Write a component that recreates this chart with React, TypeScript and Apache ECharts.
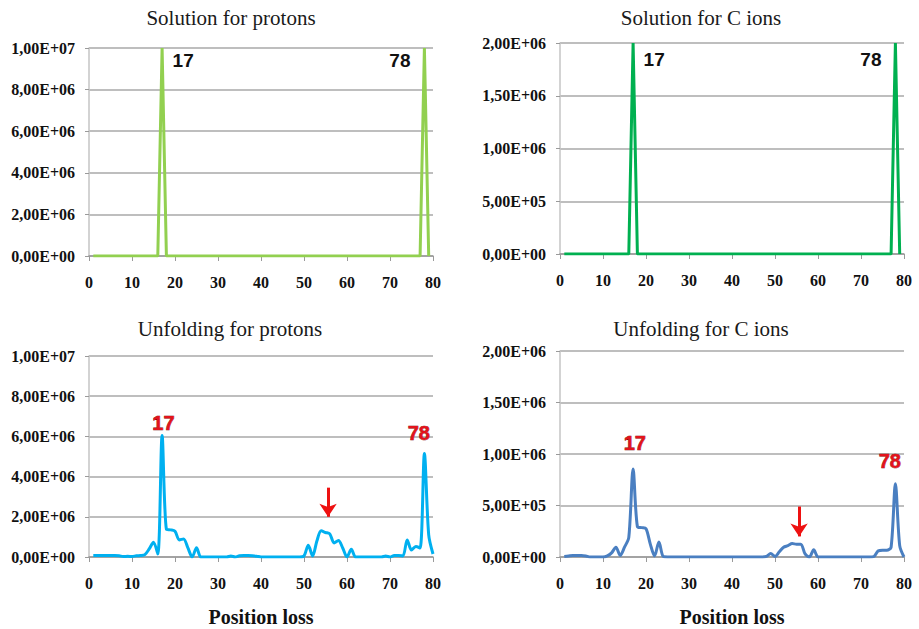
import React, { useEffect, useRef } from "react";
import * as echarts from "echarts";

// x positions
const positionsTop: number[] = [
  1, 2, 3, 4, 5, 6, 7, 8, 9, 10, 11, 12, 13, 14, 15, 16, 17, 18, 19, 20,
  21, 22, 23, 24, 25, 26, 27, 28, 29, 30, 31, 32, 33, 34, 35, 36, 37, 38, 39, 40,
  41, 42, 43, 44, 45, 46, 47, 48, 49, 50, 51, 52, 53, 54, 55, 56, 57, 58, 59, 60,
  61, 62, 63, 64, 65, 66, 67, 68, 69, 70, 71, 72, 73, 74, 75, 76, 77, 78, 79,
];
const positionsBottom: number[] = [
  1, 2, 3, 4, 5, 6, 7, 8, 9, 10, 11, 12, 13, 14, 15, 16, 17, 18, 19, 20,
  21, 22, 23, 24, 25, 26, 27, 28, 29, 30, 31, 32, 33, 34, 35, 36, 37, 38, 39, 40,
  41, 42, 43, 44, 45, 46, 47, 48, 49, 50, 51, 52, 53, 54, 55, 56, 57, 58, 59, 60,
  61, 62, 63, 64, 65, 66, 67, 68, 69, 70, 71, 72, 73, 74, 75, 76, 77, 78, 79, 80,
];

// Solution for protons (x = 1..79)
const solutionProtons: number[] = [
  0, 0, 0, 0, 0, 0, 0, 0, 0, 0, 0, 0, 0, 0, 0, 0, 1e7, 0, 0, 0,
  0, 0, 0, 0, 0, 0, 0, 0, 0, 0, 0, 0, 0, 0, 0, 0, 0, 0, 0, 0,
  0, 0, 0, 0, 0, 0, 0, 0, 0, 0, 0, 0, 0, 0, 0, 0, 0, 0, 0, 0,
  0, 0, 0, 0, 0, 0, 0, 0, 0, 0, 0, 0, 0, 0, 0, 0, 0, 1e7, 0,
];
// Solution for C ions (x = 1..79)
const solutionCIons: number[] = [
  0, 0, 0, 0, 0, 0, 0, 0, 0, 0, 0, 0, 0, 0, 0, 0, 2e6, 0, 0, 0,
  0, 0, 0, 0, 0, 0, 0, 0, 0, 0, 0, 0, 0, 0, 0, 0, 0, 0, 0, 0,
  0, 0, 0, 0, 0, 0, 0, 0, 0, 0, 0, 0, 0, 0, 0, 0, 0, 0, 0, 0,
  0, 0, 0, 0, 0, 0, 0, 0, 0, 0, 0, 0, 0, 0, 0, 0, 0, 2e6, 0,
];
// Unfolding for protons (x = 1..80)
const unfoldingProtons: number[] = [
  0.07e6, 0.07e6, 0.07e6, 0.07e6, 0.07e6, 0.07e6, 0.06e6, 0.02e6, 0.04e6, 0.02e6,
  0.06e6, 0.07e6, 0.12e6, 0.4e6, 0.74e6, 0.15e6, 6.05e6, 1.38e6, 1.35e6, 1.28e6,
  0.85e6, 0.9e6, 0.45e6, 0, 0.46e6, 0, 0, 0, 0, 0,
  0, 0, 0.05e6, 0, 0.06e6, 0.07e6, 0.07e6, 0.06e6, 0.04e6, 0,
  0, 0, 0, 0, 0, 0, 0, 0, 0, 0.05e6,
  0.58e6, 0.05e6, 0.8e6, 1.3e6, 1.22e6, 1.15e6, 0.7e6, 0.82e6, 0.45e6, 0,
  0.38e6, 0, 0, 0, 0, 0, 0, 0, 0.05e6, 0,
  0.08e6, 0.08e6, 0.05e6, 0.85e6, 0.35e6, 0.52e6, 0.45e6, 5.15e6, 1.1e6, 0.15e6,
];
// Unfolding for C ions (x = 1..80)
const unfoldingCIons: number[] = [
  0.005e6, 0.01e6, 0.015e6, 0.015e6, 0.015e6, 0.01e6, 0, 0, 0, 0,
  0.01e6, 0.04e6, 0.095e6, 0.015e6, 0.095e6, 0.19e6, 0.855e6, 0.295e6, 0.285e6, 0.275e6,
  0.125e6, 0.01e6, 0.145e6, 0.005e6, 0, 0, 0, 0, 0, 0,
  0, 0, 0, 0, 0, 0, 0, 0, 0, 0,
  0, 0, 0, 0, 0, 0, 0, 0.005e6, 0.035e6, 0.005e6,
  0.05e6, 0.095e6, 0.11e6, 0.13e6, 0.125e6, 0.125e6, 0.03e6, 0, 0.07e6, 0,
  0, 0, 0, 0, 0, 0, 0, 0, 0, 0,
  0, 0, 0.005e6, 0.06e6, 0.065e6, 0.065e6, 0.095e6, 0.71e6, 0.11e6, 0,
];

const titles: string[] = [
  "Solution for protons",
  "Solution for C ions",
  "Unfolding for protons",
  "Unfolding for C ions",
];
const xAxisTitle = "Position loss";
const peakLabels: string[] = ["17", "78"];
const yMaxProtons = 1e7;
const yStepProtons = 2e6;
const yMaxCIons = 2e6;
const yStepCIons = 5e5;

const SERIF = "'Liberation Serif', 'Times New Roman', serif";
const SANS = "'Liberation Sans', Arial, sans-serif";

function sci(v: number): string {
  if (v === 0) return "0,00E+00";
  const e = Math.floor(Math.log10(v) + 1e-9);
  const m = v / Math.pow(10, e);
  return m.toFixed(2).replace(".", ",") + "E+" + String(e).padStart(2, "0");
}

export default function App() {
  const ref = useRef<HTMLDivElement>(null);
  useEffect(() => {
    if (!ref.current) return;
    const chart = echarts.init(ref.current, null, { renderer: "svg" });

    const grids = [
      { left: 89, top: 48, width: 344, height: 208, outerBoundsMode: "none", containLabel: false },
      { left: 560, top: 43, width: 344, height: 211, outerBoundsMode: "none", containLabel: false },
      { left: 89, top: 356, width: 344, height: 201, outerBoundsMode: "none", containLabel: false },
      { left: 560, top: 351, width: 344, height: 206, outerBoundsMode: "none", containLabel: false },
    ];

    const xAxes = grids.map((_, i) => ({
      type: "value",
      gridIndex: i,
      min: 0,
      max: 80,
      interval: 10,
      name: i >= 2 ? xAxisTitle : "",
      nameLocation: "middle",
      nameGap: 50,
      nameTextStyle: { fontFamily: SERIF, fontWeight: "bold", fontSize: 20, color: "#111" },
      axisLine: { show: true, lineStyle: { color: "#9a9a9a", width: 1.5 } },
      axisTick: { show: true, length: 5, lineStyle: { color: "#9a9a9a" } },
      axisLabel: { margin: 18, fontFamily: SERIF, fontWeight: "bold", fontSize: 16, color: "#111" },
      splitLine: { show: false },
    }));

    const yAxes = grids.map((_, i) => {
      const isP = i % 2 === 0;
      return {
        type: "value",
        gridIndex: i,
        min: 0,
        max: isP ? yMaxProtons : yMaxCIons,
        interval: isP ? yStepProtons : yStepCIons,
        axisLine: { show: true, lineStyle: { color: "#c4c4c4", width: 1.5 } },
        axisTick: { show: true, length: 4, lineStyle: { color: "#9a9a9a" } },
        axisLabel: {
          margin: 14,
          fontFamily: SERIF,
          fontWeight: "bold",
          fontSize: 16,
          color: "#111",
          formatter: (v: number) => sci(v),
        },
        splitLine: { show: true, lineStyle: { color: "#a8a8a8", width: 1.5 } },
      };
    });

    const pairs = (xs: number[], ys: number[]) => xs.map((x, k) => [x, ys[k]]);

    const topLabel = (coords: number[][]) => ({
      silent: true,
      symbol: "rect",
      symbolSize: 1,
      itemStyle: { color: "rgba(0,0,0,0)" },
      label: {
        show: true,
        position: "inside",
        fontFamily: SANS,
        fontWeight: "bold",
        fontSize: 19,
        color: "#111",
      },
      data: coords.map((c, k) => ({ coord: c, value: peakLabels[k], label: { formatter: peakLabels[k] } })),
    });
    const redLabel = (coords: number[][]) => ({
      silent: true,
      symbol: "rect",
      symbolSize: 1,
      itemStyle: { color: "rgba(0,0,0,0)" },
      label: {
        show: true,
        position: "inside",
        fontFamily: SANS,
        fontWeight: "bold",
        fontSize: 20,
        color: "#e3131b",
        textBorderColor: "#7a0000",
        textBorderWidth: 0.6,
      },
      data: coords.map((c, k) => ({ coord: c, value: peakLabels[k], label: { formatter: peakLabels[k] } })),
    });
    const arrow = (x: number, y1: number, y2: number) => ({
      silent: true,
      symbol: ["none", "arrow"],
      symbolSize: 13,
      lineStyle: { color: "#ee1111", width: 3, type: "solid" },
      itemStyle: { color: "#ee1111" },
      label: { show: false },
      emphasis: { disabled: true },
      data: [[{ coord: [x, y1] }, { coord: [x, y2] }]],
    });

    const series = [
      {
        type: "line",
        xAxisIndex: 0,
        yAxisIndex: 0,
        data: pairs(positionsTop, solutionProtons),
        showSymbol: false,
        lineStyle: { color: "#92d050", width: 3 },
        itemStyle: { color: "#92d050" },
        markPoint: topLabel([[21.9, 9.42e6], [72.3, 9.42e6]]),
      },
      {
        type: "line",
        xAxisIndex: 1,
        yAxisIndex: 1,
        data: pairs(positionsTop, solutionCIons),
        showSymbol: false,
        lineStyle: { color: "#00b050", width: 3 },
        itemStyle: { color: "#00b050" },
        markPoint: topLabel([[21.9, 1.84e6], [72.3, 1.84e6]]),
      },
      {
        type: "line",
        xAxisIndex: 2,
        yAxisIndex: 2,
        data: pairs(positionsBottom, unfoldingProtons),
        showSymbol: false,
        smooth: 0.3,
        lineStyle: { color: "#00b0f0", width: 3 },
        itemStyle: { color: "#00b0f0" },
        markPoint: redLabel([[17.3, 6.67e6], [76.7, 6.17e6]]),
        markLine: arrow(55.6, 3.45e6, 2.0e6),
      },
      {
        type: "line",
        xAxisIndex: 3,
        yAxisIndex: 3,
        data: pairs(positionsBottom, unfoldingCIons),
        showSymbol: false,
        smooth: 0.3,
        lineStyle: { color: "#4a7fc1", width: 3 },
        itemStyle: { color: "#4a7fc1" },
        markPoint: redLabel([[17.4, 1.107e6], [76.7, 0.93e6]]),
        markLine: arrow(55.6, 0.49e6, 0.2e6),
      },
    ];

    const titleCenters = [
      [226, 2],
      [696, 2],
      [225, 313],
      [696, 313],
    ];

    chart.setOption({
      animation: false,
      backgroundColor: "#ffffff",
      title: titles.map((t, i) => ({
        text: t,
        left: titleCenters[i][0],
        top: titleCenters[i][1],
        textAlign: "center",
        textStyle: { fontFamily: SERIF, fontWeight: "normal", fontSize: 21, color: "#1a1a1a" },
      })),
      grid: grids,
      xAxis: xAxes,
      yAxis: yAxes,
      series,
    });

    return () => chart.dispose();
  }, []);

  return (
    <div
      ref={ref}
      style={{ position: "absolute", left: 0, top: 0, width: 919, height: 629 }}
    />
  );
}
